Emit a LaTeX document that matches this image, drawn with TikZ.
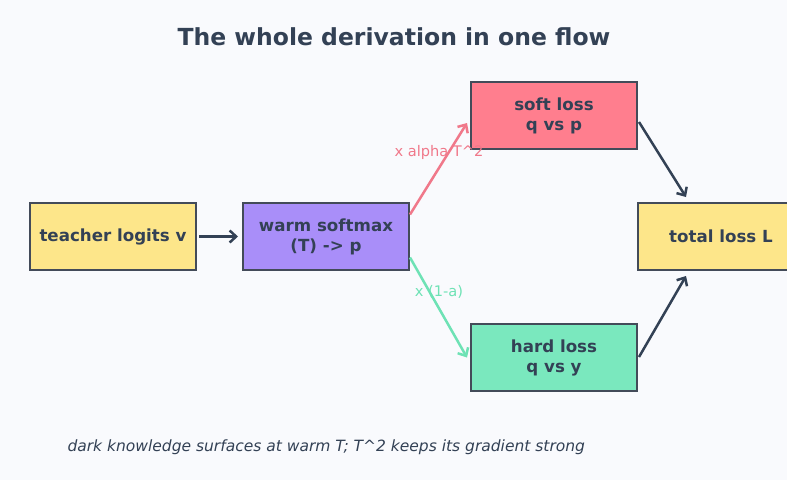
\documentclass[tikz,border=0pt]{standalone}
\usepackage{fontspec}
\setmainfont{DejaVu Sans}
\usetikzlibrary{arrows.meta,calc}
\definecolor{bg}{HTML}{F9FAFD}
\definecolor{ink}{HTML}{334155}
\definecolor{edge}{HTML}{434B59}
\definecolor{yel}{HTML}{FDE68A}
\definecolor{pur}{HTML}{A98EF9}
\definecolor{pnk}{HTML}{FF7E8E}
\definecolor{grn}{HTML}{7AE8BE}
\definecolor{pnkline}{HTML}{F0788A}
\definecolor{grnline}{HTML}{6EE2B5}
\tikzset{
  box/.style={draw=edge, line width=2pt, rectangle, minimum width=166pt, minimum height=67pt,
    inner sep=0pt, align=center, text=ink, font=\bfseries\fontsize{16.67}{20}\selectfont},
  arr/.style={line width=2.5pt, -{Straight Barb[length=6.5pt,width=12pt,line width=2.5pt]}},
  elab/.style={font=\fontsize{14.6}{17}\selectfont}
}
\begin{document}
\begin{tikzpicture}[x=1pt,y=-1pt]
\fill[bg] (0,0) rectangle (787,480);
\useasboundingbox (0,0) rectangle (787,480);
\clip (0,0) rectangle (787,480);
\node[text=ink, font=\bfseries\fontsize{23.5}{27}\selectfont] (title) at (394,37) {The whole derivation in one flow};
\node[box, fill=yel] (t) at (113,236.5) {teacher logits v};
\node[box, fill=pur] (w) at (326,236.5) {warm softmax\\(T) -> p};
\node[box, fill=pnk] (s) at (554,115.5) {soft loss\\q vs p};
\node[box, fill=grn] (h) at (554,357.5) {hard loss\\q vs y};
\node[box, fill=yel] (l) at (721,236.5) {total loss L};
\draw[arr, draw=ink, shorten <=2pt, shorten >=4pt] (t.east) -- (w.west);
\draw[arr, draw=pnkline] ($(w.east)+(0,-22)$) -- ($(s.west)+(-3,7.5)$);
\draw[arr, draw=grnline] ($(w.east)+(0,21)$) -- ($(h.west)+(-3,0)$);
\draw[arr, draw=ink] ($(s.east)+(1,6.5)$) -- ($(l.north west)+(49,-5)$);
\draw[arr, draw=ink] ($(h.east)+(1,-0.5)$) -- ($(l.south west)+(49,5)$);
\node[elab, text=pnkline] (la) at (439,152) {x alpha T\^{}2};
\node[elab, text=grnline] (lb) at (439,292) {x (1-a)};
\node[text=ink, font=\itshape\fontsize{15.5}{18}\selectfont, anchor=west] (cap) at (64,447.5) {dark knowledge surfaces at warm T; T\^{}2 keeps its gradient strong};
\end{tikzpicture}
\end{document}
